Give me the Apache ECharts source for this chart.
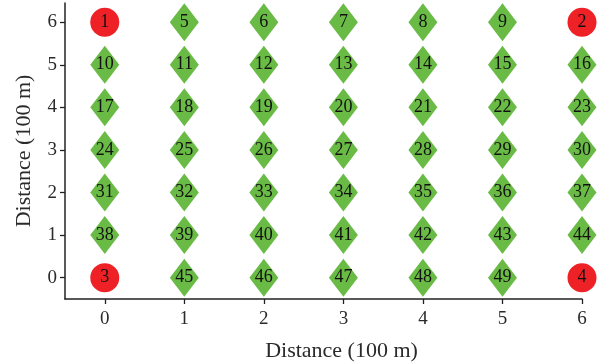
<!DOCTYPE html>
<html>
<head>
<meta charset="utf-8">
<script src="https://cdn.jsdelivr.net/npm/echarts@6/dist/echarts.min.js"></script>
<style>
  html, body { margin: 0; padding: 0; background: #fff; }
  #chart { width: 603px; height: 364px; }
</style>
</head>
<body>
<div id="chart"></div>
<script>
// Anchor nodes (red circles) at the four corners of the field
const anchorX   = [0, 6, 0, 6];
const anchorY   = [6, 6, 0, 0];
const anchorIds = [1, 2, 3, 4];

// Unknown nodes (green diamonds), row by row from the top
const sensorX = [
  1, 2, 3, 4, 5,
  0, 1, 2, 3, 4, 5, 6,
  0, 1, 2, 3, 4, 5, 6,
  0, 1, 2, 3, 4, 5, 6,
  0, 1, 2, 3, 4, 5, 6,
  0, 1, 2, 3, 4, 5, 6,
  1, 2, 3, 4, 5
];
const sensorY = [
  6, 6, 6, 6, 6,
  5, 5, 5, 5, 5, 5, 5,
  4, 4, 4, 4, 4, 4, 4,
  3, 3, 3, 3, 3, 3, 3,
  2, 2, 2, 2, 2, 2, 2,
  1, 1, 1, 1, 1, 1, 1,
  0, 0, 0, 0, 0
];
const sensorIds = [
  5, 6, 7, 8, 9,
  10, 11, 12, 13, 14, 15, 16,
  17, 18, 19, 20, 21, 22, 23,
  24, 25, 26, 27, 28, 29, 30,
  31, 32, 33, 34, 35, 36, 37,
  38, 39, 40, 41, 42, 43, 44,
  45, 46, 47, 48, 49
];

const tickValues = [0, 1, 2, 3, 4, 5, 6];

const FONT = '"Liberation Serif", "DejaVu Serif", serif';

function points(xs, ys, ids) {
  return xs.map((x, i) => [x, ys[i], ids[i]]);
}

const labelStyle = {
  show: true,
  position: 'inside',
  formatter: p => String(p.value[2]),
  color: '#111',
  fontFamily: FONT,
  fontSize: 18
};

function axis(name, gap, rotate, labelMargin, namePadding) {
  return {
    type: 'value',
    min: -0.5,
    name: name,
    nameLocation: 'middle',
    nameGap: gap,
    nameRotate: rotate,
    nameTextStyle: { fontFamily: FONT, fontSize: 22, color: '#2a2a2a', padding: namePadding },
    axisLine: { show: true, onZero: false, lineStyle: { color: '#222', width: 1.5 } },
    axisTick: { show: true, inside: false, length: 5, customValues: tickValues,
                lineStyle: { color: '#222', width: 1.3 } },
    axisLabel: { customValues: tickValues, fontFamily: FONT, fontSize: 19, color: '#2a2a2a',
                 margin: labelMargin },
    splitLine: { show: false }
  };
}

const xAxis = axis('Distance (100 m)', 41, 0, 11, [0, 0, 0, 36]);
xAxis.max = 6;
const yAxis = axis('Distance (100 m)', 30, 90, 8, 0);
yAxis.max = 6.45;

const chart = echarts.init(document.getElementById('chart'), null, { renderer: 'canvas' });
chart.setOption({
  animation: false,
  backgroundColor: '#fff',
  grid: { left: 65, right: 21, top: 3, bottom: 65, containLabel: false, outerBoundsMode: 'none' },
  xAxis: xAxis,
  yAxis: yAxis,
  series: [
    {
      type: 'scatter',
      symbol: 'diamond',
      symbolSize: [29, 38],
      itemStyle: { color: '#6abb46', opacity: 1 },
      label: labelStyle,
      data: points(sensorX, sensorY, sensorIds)
    },
    {
      type: 'scatter',
      symbol: 'circle',
      symbolSize: 29,
      itemStyle: { color: '#ee2226', opacity: 1 },
      label: labelStyle,
      data: points(anchorX, anchorY, anchorIds)
    }
  ]
});
</script>
</body>
</html>
